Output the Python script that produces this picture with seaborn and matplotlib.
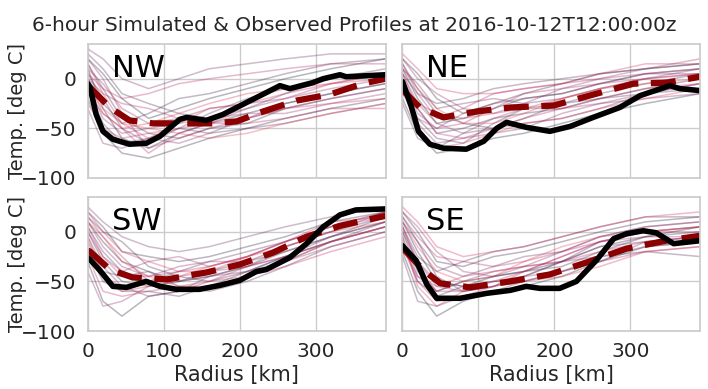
import numpy as np
import pandas as pd
import matplotlib
matplotlib.use("Agg")
import matplotlib.pyplot as plt
import seaborn as sns

# radius grids (km)
r_ens = [0, 20, 45, 80, 120, 160, 210, 260, 320, 392]

# observed profiles (black)
obs_nw_r = [0, 3, 11, 20, 33, 55, 77, 95, 121, 130, 156, 178, 209, 235, 253, 266, 296, 310, 332, 340, 367, 392]
obs_nw_t = [-5, -9, -36, -53, -61, -66, -65, -58, -41, -39, -42, -36, -24, -14, -7, -10, -4, 0, 4, 2, 3, 4]
obs_ne_r = [0, 1, 12, 21, 36, 54, 84, 107, 124, 137, 163, 194, 221, 251, 286, 313, 352, 365, 392]
obs_ne_t = [-3, -5, -29, -53, -66, -70, -71, -63, -50, -44, -49, -53, -48, -39, -29, -17, -7, -10, -12]
obs_sw_r = [0, 3, 16, 33, 51, 77, 95, 117, 147, 174, 200, 222, 235, 266, 288, 310, 332, 353, 392]
obs_sw_t = [-26, -28, -39, -55, -56, -50, -55, -58, -58, -54, -49, -40, -38, -26, -12, 5, 17, 22, 23]
obs_se_r = [0, 1, 18, 32, 45, 76, 111, 142, 163, 181, 207, 229, 255, 278, 295, 317, 334, 357, 392]
obs_se_t = [-14, -15, -29, -53, -67, -67, -62, -59, -55, -57, -57, -50, -29, -7, -2, 1, -1, -12, -9]

# ensemble mean (dashed)
mean_nw_r = [0, 3, 29, 55, 86, 121, 165, 196, 231, 275, 318, 362, 392]
mean_nw_t = [-7, -9, -29, -42, -45, -45, -45, -43, -33, -22, -16, -5, 0]
mean_ne_r = [0, 1, 23, 54, 98, 142, 199, 251, 304, 348, 392]
mean_ne_t = [-10, -12, -29, -39, -33, -29, -27, -16, -5, -4, 2]
mean_sw_r = [0, 3, 29, 59, 104, 156, 200, 244, 288, 332, 392]
mean_sw_t = [-19, -20, -38, -46, -48, -41, -33, -21, -5, 6, 16]
mean_se_r = [0, 1, 28, 50, 89, 142, 194, 242, 295, 347, 392]
mean_se_t = [-16, -17, -39, -52, -56, -50, -43, -31, -17, -9, -4]

# ensemble members (temperature at r_ens)
ens_nw = [
    [10, -30, -60, -70, -55, -45, -35, -25, -15, -5],
    [20, 5, -20, -40, -30, -20, -10, 0, 10, 20],
    [-20, -55, -75, -80, -70, -60, -50, -40, -30, -20],
    [15, -10, -40, -55, -60, -50, -45, -30, -20, -10],
    [0, -25, -45, -35, -20, -15, -5, 5, 15, 20],
    [25, 10, -15, -25, -35, -40, -30, -15, 0, 10],
    [-10, -45, -65, -60, -50, -55, -50, -45, -35, -25],
    [5, -20, -50, -65, -50, -35, -20, -10, 0, 5],
    [30, 20, 0, -10, 0, 10, 15, 20, 25, 25],
    [-30, -65, -70, -60, -65, -55, -40, -25, -15, -5],
    [10, -5, -30, -45, -40, -30, -25, -20, -10, 0],
    [-5, -40, -55, -50, -45, -40, -35, -35, -25, -15],
    [20, 0, -35, -70, -60, -50, -40, -30, -20, -10],
    [0, -15, -25, -30, -40, -45, -30, -20, -5, 5],
    [-15, -35, -50, -75, -55, -45, -45, -40, -30, -30],
    [5, -10, -20, -15, -5, 0, 5, 10, 15, 15],
    [-25, -50, -60, -55, -50, -45, -40, -30, -25, -20],
    [15, -15, -45, -60, -45, -30, -25, -15, -5, 0],
    [0, -35, -50, -45, -35, -25, -15, -10, -5, 5],
    [-10, -30, -45, -50, -55, -60, -55, -45, -35, -25],
]
ens_ne = [
    [10, -20, -45, -40, -30, -20, -15, -5, 5, 10],
    [-20, -55, -75, -70, -60, -55, -45, -35, -25, -15],
    [20, 5, -20, -35, -25, -15, -5, 5, 10, 15],
    [0, -30, -55, -50, -40, -35, -30, -20, -10, 0],
    [15, -10, -35, -45, -50, -40, -25, -15, -5, 5],
    [-10, -40, -60, -65, -45, -30, -25, -20, -15, -10],
    [5, -15, -25, -20, -10, -5, 0, 5, 10, 15],
    [-25, -60, -70, -55, -50, -45, -40, -30, -15, -5],
    [10, -5, -30, -25, -20, -25, -20, -10, 0, 10],
    [0, -35, -50, -35, -25, -20, -15, -5, 5, 5],
    [-5, -45, -65, -60, -55, -50, -35, -25, -20, -15],
    [20, 0, -15, -30, -35, -25, -10, 0, 10, 20],
    [5, -25, -45, -55, -40, -30, -30, -25, -15, -5],
    [-15, -40, -50, -45, -30, -15, -10, -5, 0, 5],
    [15, -15, -40, -30, -15, -10, -5, 0, 5, 10],
    [5, -30, -55, -60, -50, -40, -30, -20, -10, -5],
    [-10, -25, -35, -40, -35, -30, -20, -10, 0, 5],
    [25, 10, -10, -15, -15, -10, -5, 5, 15, 15],
    [-5, -50, -70, -65, -55, -45, -40, -30, -20, -10],
    [10, -10, -30, -45, -45, -35, -20, -10, -5, 0],
]
ens_sw = [
    [10, -10, -30, -40, -50, -45, -35, -20, -5, 10],
    [-30, -70, -85, -65, -60, -55, -45, -30, -10, 5],
    [20, 5, -20, -25, -30, -25, -15, -5, 10, 20],
    [0, -30, -50, -55, -50, -40, -30, -15, 0, 15],
    [15, 0, -10, -35, -45, -50, -40, -25, -5, 15],
    [-20, -50, -60, -60, -65, -55, -40, -25, -10, 10],
    [5, -20, -40, -50, -40, -30, -20, -10, 5, 20],
    [-10, -40, -45, -40, -55, -60, -50, -35, -15, 0],
    [25, 10, -5, -15, -20, -15, -5, 5, 15, 25],
    [-5, -35, -55, -65, -60, -45, -35, -25, -10, 5],
    [10, -15, -35, -45, -35, -30, -30, -20, -5, 10],
    [-40, -75, -70, -55, -50, -45, -40, -30, -15, 0],
    [0, -25, -40, -30, -25, -35, -25, -10, 5, 15],
    [15, -5, -25, -50, -60, -50, -35, -15, 0, 20],
    [-15, -45, -55, -50, -45, -40, -25, -10, 10, 15],
    [5, -25, -45, -45, -40, -40, -35, -25, -10, 5],
    [-25, -60, -65, -60, -55, -50, -45, -35, -20, -5],
    [20, 0, -20, -30, -40, -35, -25, -10, 5, 20],
    [-5, -45, -60, -55, -45, -35, -25, -15, 0, 10],
    [10, -5, -30, -45, -55, -55, -45, -30, -10, 5],
]
ens_se = [
    [10, -20, -50, -55, -45, -40, -30, -15, -5, 5],
    [-20, -60, -85, -70, -60, -55, -45, -30, -15, -10],
    [20, 0, -30, -35, -25, -20, -10, 0, 10, 15],
    [0, -40, -60, -50, -45, -40, -35, -20, -5, 0],
    [15, -10, -45, -60, -55, -45, -30, -10, 0, 5],
    [-10, -50, -65, -55, -50, -50, -40, -25, -20, -25],
    [5, -25, -40, -30, -20, -15, -5, 5, 15, 15],
    [-25, -70, -75, -65, -60, -50, -40, -30, -10, -5],
    [10, -10, -35, -45, -35, -25, -20, -5, 5, 10],
    [0, -30, -55, -60, -55, -45, -30, -15, -10, -5],
    [-5, -45, -60, -50, -40, -35, -30, -25, -15, -10],
    [20, 5, -20, -40, -45, -35, -20, -5, 5, 10],
    [5, -30, -50, -55, -50, -45, -40, -30, -20, -15],
    [-15, -50, -70, -65, -55, -40, -25, -10, 0, 5],
    [15, -5, -25, -30, -35, -30, -20, -10, -5, -5],
    [5, -35, -60, -60, -50, -40, -25, -10, 0, 0],
    [-15, -45, -55, -45, -40, -35, -30, -20, -10, -5],
    [25, 10, -15, -25, -20, -15, -5, 5, 15, 20],
    [-5, -55, -75, -60, -55, -50, -45, -35, -20, -15],
    [10, -15, -40, -50, -45, -30, -15, -5, 0, 5],
]

quadrants = ["NW", "NE", "SW", "SE"]
ens_all = {"NW": ens_nw, "NE": ens_ne, "SW": ens_sw, "SE": ens_se}
obs_all = {"NW": (obs_nw_r, obs_nw_t), "NE": (obs_ne_r, obs_ne_t),
           "SW": (obs_sw_r, obs_sw_t), "SE": (obs_se_r, obs_se_t)}
mean_all = {"NW": (mean_nw_r, mean_nw_t), "NE": (mean_ne_r, mean_ne_t),
            "SW": (mean_sw_r, mean_sw_t), "SE": (mean_se_r, mean_se_t)}

sns.set_theme(style="whitegrid")
plt.rcParams['font.family'] = ['DejaVu Sans']

fig, axes = plt.subplots(2, 2, figsize=(7.08, 3.89), dpi=100, sharex=True, sharey=True)
fig.subplots_adjust(left=0.124, right=0.989, bottom=0.149, top=0.887, wspace=0.057, hspace=0.142)

for ax, q in zip(axes.flat, quadrants):
    members = ens_all[q]
    # dark purple -> crimson part of rocket
    pal = sns.color_palette("rocket", int(len(members) * 1.7))[:len(members)]
    rows = []
    for i, m in enumerate(members):
        for r, t in zip(r_ens, m):
            rows.append({"member": i, "radius": r, "temp": t})
    df = pd.DataFrame(rows)
    sns.lineplot(data=df, x="radius", y="temp", hue="member", palette=pal,
                 alpha=0.3, lw=1.1, legend=False, ax=ax, estimator=None)
    mr, mt = mean_all[q]
    sns.lineplot(x=mr, y=mt, color="#8b0000", lw=4.5, ax=ax)
    ax.lines[-1].set_dashes([4, 2])
    orr, ot = obs_all[q]
    sns.lineplot(x=orr, y=ot, color="black", lw=4, ax=ax)
    ax.text(0.08, 0.82, q, transform=ax.transAxes, fontsize=22, va="center", ha="left", color="black")
    ax.set_xlim(0, 392)
    ax.set_ylim(-100, 35)
    ax.set_xticks([0, 100, 200, 300])
    ax.set_yticks([-100, -50, 0])
    ax.tick_params(labelsize=14.5, pad=2)
    ax.set_xlabel("")
    ax.set_ylabel("")

for ax in axes[:, 0]:
    ax.set_ylabel("Temp. [deg C]", fontsize=14)
    ax.yaxis.set_label_coords(-0.205, 0.5)
for ax in axes[1, :]:
    ax.set_xlabel("Radius [km]", fontsize=15, labelpad=3)

fig.suptitle("6-hour Simulated & Observed Profiles at 2016-10-12T12:00:00z", fontsize=14.5, y=0.96)
fig.savefig("out.png", dpi=100)
